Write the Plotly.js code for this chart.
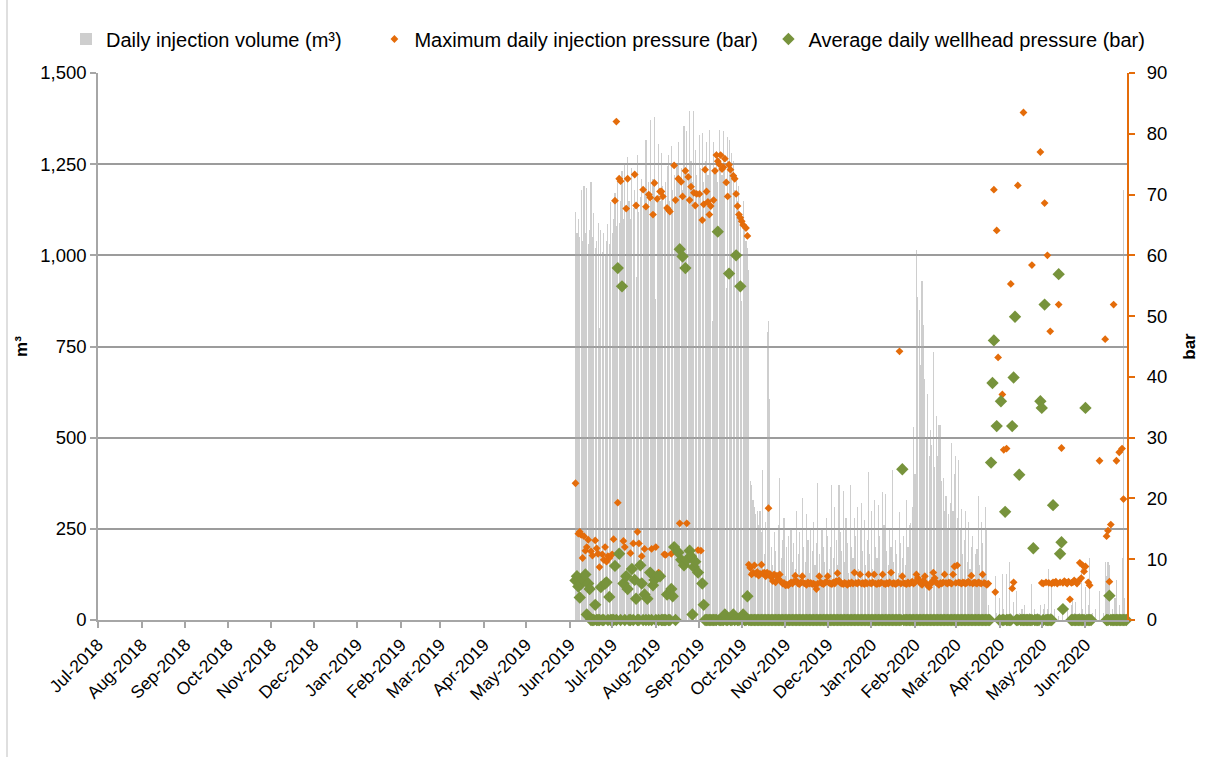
<!DOCTYPE html>
<html>
<head>
<meta charset="utf-8">
<script src="https://cdn.plot.ly/plotly-3.0.1.min.js"></script>
<style>
  html, body { margin: 0; padding: 0; background: #ffffff; }
  #chart { width: 1216px; height: 757px; }
</style>
</head>
<body>
<div id="chart"></div>
<script>
// First day of the daily series and step (one day in ms)
const seriesStart = '2019-06-05';
const dayMs = 86400000;

// Daily injection volume (m³), one value per day from 2019-06-05 to 2020-06-30
const dailyVolume = [
  1120, 1060, 1100, 1050, 1180, 1040, 1190, 1060, 1185, 1030,
  1070, 1200, 1050, 1115, 1020, 1040, 1090, 800, 1070, 1010,
  1060, 1000, 1040, 1085, 1030, 1145, 1060, 1100, 1170, 1080,
  1200, 1090, 1150, 1230, 1100, 1250, 1120, 1270, 1150, 1100,
  1240, 1130, 1180, 940, 1275, 1120, 1160, 1210, 1130, 1180,
  1315, 1140, 1200, 1370, 1150, 1210, 1380, 880, 1160, 1305,
  1150, 1280, 1190, 1130, 1200, 1245, 1275, 1150, 1300, 1180,
  1220, 1160, 1250, 1310, 1200, 1240, 1180, 1355, 1230, 1340,
  1210, 1395, 1260, 1200, 1395, 1290, 1220, 1170, 1330, 1240,
  1335, 1200, 1260, 1310, 1220, 1345, 1250, 820, 1310, 1230,
  1285, 1200, 1345, 1260, 1220, 1340, 1250, 910, 1325, 1315,
  1230, 1280, 1260, 1180, 1220, 1150, 1190, 1100, 875, 1150,
  1080, 1040, 1020, 960, 380, 370, 330, 310, 290, 300,
  260, 300, 240, 410, 180, 270, 790, 820, 605, 200,
  150, 240, 190, 130, 260, 390, 170, 220, 280, 120,
  200, 230, 90, 250, 160, 210, 140, 300, 180, 240,
  110, 335, 200, 160, 290, 220, 130, 250, 190, 270,
  150, 210, 375, 180, 120, 250, 200, 160, 280, 230,
  140, 200, 370, 170, 310, 220, 150, 370, 240, 190,
  355, 160, 280, 210, 130, 370, 200, 170, 280, 230,
  310, 140, 250, 320, 190, 275, 150, 220, 405, 180,
  300, 140, 330, 200, 170, 315, 230, 120, 350, 260,
  345, 190, 150, 250, 200, 410, 160, 220, 180, 130,
  295, 210, 170, 230, 150, 330, 200, 260, 265, 310,
  530, 400, 1015, 885, 850, 700, 930, 810, 660, 500,
  620, 450, 520, 480, 735, 420, 560, 450, 535, 535,
  380, 390, 300, 340, 250, 290, 320, 485, 300, 400,
  450, 280, 440, 250, 305, 180, 220, 300, 160, 270,
  140, 200, 230, 110, 180, 195, 340, 150, 270, 210,
  120, 310, 250, 40, 0, 10, 0, 0, 120, 20,
  0, 60, 0, 125, 30, 0, 125, 0, 160, 20,
  0, 50, 0, 80, 0, 20, 0, 30, 0, 40,
  0, 0, 20, 0, 100, 0, 30, 0, 20, 0,
  40, 0, 30, 45, 0, 30, 140, 20, 90, 0,
  30, 0, 0, 10, 0, 0, 20, 0, 0, 30,
  0, 0, 40, 60, 20, 50, 0, 0, 20, 140,
  30, 0, 90, 0, 40, 170, 0, 20, 0, 30,
  0, 0, 80, 0, 0, 20, 160, 120, 160, 150,
  0, 30, 0, 60, 110, 0, 40, 0, 170, 1180,
  60, 0
];

// Maximum daily injection pressure (bar), same days; null = no reading
const maxInjectionPressure = [
  22.5, null, 14.2, 14.5, 14.0, 10.2, 13.8, 11.4, 12.0, 13.2,
  null, 11.3, 10.6, null, 13.1, 11.8, 10.9, 8.7, null, 10.8,
  9.9, 12.0, 9.6, 10.5, 10.2, null, 10.8, 13.3, 69.0, 82.0,
  19.3, 72.6, 72.2, null, 13.0, 12.0, 67.7, 72.6, null, 11.0,
  null, 12.6, 73.3, 68.2, 14.5, 12.6, null, 10.5, 70.8, 11.7,
  68.0, null, 70.0, 69.5, 11.7, 66.7, 71.9, 12.0, 69.3, 7.8,
  70.5, 70.5, 69.7, 10.8, 10.7, 67.8, 67.5, 67.2, 10.9, null,
  74.8, 69.1, null, 72.6, 15.9, 72.1, 69.7, null, 73.9, 15.9,
  72.9, 69.1, 71.3, null, 70.3, 68.2, 70.1, 11.5, 70.1, 11.4,
  65.8, 68.4, 74.1, 70.5, 68.8, 66.7, 68.1, null, 69.1, 73.9,
  76.5, 75.5, 75.0, 76.5, 74.2, 74.5, 75.9, 72.0, 69.7, 74.9,
  74.1, null, 73.1, 72.6, 70.1, 68.1, 66.7, 66.2, 65.6, 65.0,
  null, 64.5, 63.2, 9.1, 8.6, 7.5, 7.8, 9.0, 7.6, 7.9,
  7.3, 7.6, 9.1, 7.7, 7.8, 7.2, 7.8, 18.4, 7.6, 7.0,
  6.4, 7.5, 6.2, 7.3, 6.8, 7.5, 6.3, 6.0, 6.1, 5.7,
  5.8, 5.7, 6.0, 6.2, 6.0, 6.3, 7.3, 6.4, 6.0, 5.9,
  6.2, 7.2, 6.1, 6.0, 5.8, 6.2, 6.0, 6.1, 5.9, 6.0,
  5.8, 5.1, 6.0, 7.2, 6.2, 6.0, 5.9, 6.1, 6.3, 7.2,
  6.1, 6.0, 5.9, 6.2, 6.0, 6.4, 7.7, 6.5, 6.1, 6.0,
  5.9, 6.1, 6.0, 5.8, 6.1, 6.0, 6.2, 6.0, 7.8, 6.1,
  6.0, 6.2, 7.5, 6.0, 6.1, 5.9, 6.2, 6.0, 7.5, 6.1,
  6.0, 6.2, 7.5, 6.0, 5.9, 6.1, 6.0, 6.2, 7.5, 6.0,
  5.9, 6.1, 6.0, 6.2, 7.8, 6.0, 6.1, 5.9, 6.0, 6.2,
  44.2, 6.0, 7.2, 6.1, 6.0, 5.9, 6.2, 6.0, 6.1, 6.3,
  6.0, 6.2, 7.5, 6.9, 6.4, 6.0, 5.8, 6.5, 7.2, 6.0,
  5.7, 5.4, 5.9, 6.3, 7.8, 6.9, 6.2, 6.0, 5.8, 6.1,
  6.0, 6.2, 7.5, 6.1, 6.0, 6.2, 6.1, 6.0, 7.5, 8.8,
  6.1, 9.0, 6.2, 6.1, 6.0, 6.2, 6.1, 6.0, 6.2, 6.3,
  6.1, 7.3, 6.0, 6.2, 6.1, 6.0, 6.2, 6.1, 6.0, 7.5,
  6.1, 6.0, 5.8, 6.0, null, null, null, 70.8, 4.6, 64.1,
  43.2, null, null, 37.1, 28.0, null, 28.2, null, null, 55.3,
  5.2, 6.2, null, null, 71.5, null, null, null, 83.5, null,
  null, null, null, null, 58.4, null, null, null, null, null,
  77.0, 6.1, 6.0, 68.6, 6.2, 60.0, 6.1, 47.5, 6.0, 6.2,
  6.1, 6.3, 6.0, 51.9, 6.2, 28.3, 6.1, 6.4, 6.2, 6.0,
  6.3, 3.4, 6.1, 6.2, 6.5, 6.3, 6.0, 6.4, 9.4, 6.9,
  9.0, 8.0, 8.8, null, 6.2, 5.7, null, null, null, null,
  null, null, 26.2, null, null, null, 46.2, 13.8, 14.7, 6.3,
  15.7, null, 51.9, null, 26.2, null, 27.6, null, 28.2, 19.9,
  null, null
];

// Average daily wellhead pressure (bar), same days; null = no reading
const avgWellheadPressure = [
  6.5, 7.2, 5.5, 3.7, 6.0, 6.8, 6.5, 7.5, 0.9, 6.0,
  5.1, 0, 0, 0, 2.5, 0, 0, 0, 5.4, 0,
  0, 6.0, 6.2, 0, 3.8, 0, 0, 0, 8.9, 0,
  57.9, 10.9, 0, 54.9, 6.0, 0, 7.2, 5.1, 0, 0,
  8.4, 0, 6.6, 3.5, 0, 0, 9.0, 6.0, 0, 4.2,
  0, 3.5, 0, 7.8, 0, 5.7, 6.6, 0, 7.2, 0,
  7.2, 0, 0, 0, 0, 4.2, 0, 0, 5.1, 3.9,
  12.0, 0, null, 11.1, 61.0, 9.9, 59.8, 9.0, 57.9, 9.9,
  null, 11.4, 10.5, 0.9, 8.7, 9.6, null, 7.8, null, null,
  6.0, 2.5, 0, 0, 0, 0, 0, 0, 0, 0,
  0, 63.9, 0, 0, 0, 0, 0.9, 0, 0, 57.0,
  0, 0, 0.9, 0, 60.0, 0, 0, 54.9, 0, 0.9,
  0, 0, 3.9, 0, 0, 0, 0, 0, 0, 0,
  0, 0, 0, 0, 0, 0, 0, 0, 0, 0,
  0, 0, 0, 0, 0, 0, 0, 0, 0, 0,
  0, 0, 0, 0, 0, 0, 0, 0, 0, 0,
  0, 0, 0, 0, 0, 0, 0, 0, 0, 0,
  0, 0, 0, 0, 0, 0, 0, 0, 0, 0,
  0, 0, 0, 0, 0, 0, 0, 0, 0, 0,
  0, 0, 0, 0, 0, 0, 0, 0, 0, 0,
  0, 0, 0, 0, 0, 0, 0, 0, 0, 0,
  0, 0, 0, 0, 0, 0, 0, 0, 0, 0,
  0, 0, 0, 0, 0, 0, 0, 0, 0, 0,
  0, 0, 24.8, 0, 0, 0, 0, 0, 0, 0,
  0, 0, 0, 0, 0, 0, 0, 0, 0, 0,
  0, 0, 0, 0, 0, 0, 0, 0, 0, 0,
  0, 0, 0, 0, 0, 0, 0, 0, 0, 0,
  0, 0, 0, 0, 0, 0, 0, 0, 0, 0,
  0, 0, 0, 0, 0, 0, 0, 0, 0, 0,
  0, 0, 0, 0, 0, 25.9, 39.0, 46.0, null, 31.9,
  null, 0, 36.0, 0, 0, 17.8, 0, 0, 0, 0,
  31.9, 39.9, 49.9, 0, 0, 23.9, 0, 0, 0, 0,
  0, 0, 0, 0, 0, 11.8, 0, 0, 0, 0,
  36.0, 34.9, 0, 51.9, 0, 0, 0, 0, 0, 18.9,
  null, null, null, 56.9, 10.9, 12.8, 1.8, null, null, null,
  null, null, 0, 0, 0, 0, 0, 0, 0, 0,
  0, 0, 34.9, 0, 0, 0, 0, null, null, null,
  null, null, null, null, null, null, null, 0, 0, 4.0,
  0, 0, 0, 0, 0, 0, 0, 0, 0, 0,
  0, 0
];

const seriesNames = [
  'Daily injection volume (m³)' + '\u00a0'.repeat(5),
  'Maximum daily injection pressure (bar)' + '\u00a0'.repeat(1),
  'Average daily wellhead pressure (bar)'
];

const axisRange = ['2018-07-01', '2020-06-30 12:00'];
const volumeRange = [0, 1500];
const pressureRange = [0, 90];

const GREY = '#a6a6a6';
const ORANGE = '#E46C0A';
const GREEN = '#77933C';
const FONT = 'Liberation Sans, Arial, sans-serif';

const traces = [
  {
    type: 'bar',
    name: seriesNames[0],
    x0: seriesStart, dx: dayMs,
    y: dailyVolume,
    width: 0.8 * dayMs,
    marker: { color: 'rgba(166,166,166,0.55)', line: { width: 0 } },
    hoverinfo: 'x+y'
  },
  {
    type: 'scatter', mode: 'markers',
    name: seriesNames[1],
    x0: seriesStart, dx: dayMs,
    y: maxInjectionPressure,
    yaxis: 'y2',
    cliponaxis: false,
    marker: { symbol: 'diamond', size: 6, color: ORANGE, line: { width: 0 } }
  },
  {
    type: 'scatter', mode: 'markers',
    name: seriesNames[2],
    x0: seriesStart, dx: dayMs,
    y: avgWellheadPressure,
    yaxis: 'y2',
    cliponaxis: false,
    marker: { symbol: 'diamond', size: 9.5, color: GREEN, line: { width: 0 } }
  }
];

const layout = {
  width: 1216, height: 757,
  margin: { l: 98, r: 89, t: 73, b: 137, pad: 0 },
  paper_bgcolor: '#ffffff', plot_bgcolor: '#ffffff',
  font: { family: FONT, size: 17, color: '#000000' },
  showlegend: true,
  legend: {
    orientation: 'h', xref: 'paper', yref: 'paper',
    x: (66 - 98) / 1029, xanchor: 'left', y: 1 + 34 / 547, yanchor: 'middle',
    font: { family: FONT, size: 20, color: '#000000' },
    itemwidth: 30, traceorder: 'normal', bgcolor: 'rgba(0,0,0,0)', borderwidth: 0
  },
  bargap: 0,
  xaxis: {
    type: 'date', range: axisRange,
    tick0: '2018-07-01', dtick: 'M1', tickformat: '%b-%Y', tickangle: -45,
    ticks: 'outside', ticklen: 6, tickcolor: GREY, tickwidth: 1.5,
    showline: true, linecolor: GREY, linewidth: 1.5,
    showgrid: false, zeroline: false,
    tickfont: { family: FONT, size: 17.5, color: '#000000' }
  },
  yaxis: {
    range: volumeRange, dtick: 250, tickformat: ',',
    ticks: 'outside', ticklen: 6, tickcolor: GREY, tickwidth: 1.5,
    showline: true, linecolor: GREY, linewidth: 1.5,
    showgrid: true, gridcolor: '#9c9c9c', gridwidth: 1.5, zeroline: false,
    tickfont: { family: FONT, size: 18.5, color: '#000000' },
    title: { text: '<b>m³</b>', font: { family: FONT, size: 17, color: '#000000' }, standoff: 8 }
  },
  yaxis2: {
    overlaying: 'y', side: 'right', range: pressureRange, dtick: 10,
    ticks: 'outside', ticklen: 6, tickcolor: ORANGE, tickwidth: 1.5,
    ticklabelstandoff: 8,
    showline: true, linecolor: ORANGE, linewidth: 2,
    showgrid: false, zeroline: false,
    tickfont: { family: FONT, size: 18.5, color: '#000000' },
    title: { text: '<b>bar</b>', font: { family: FONT, size: 17, color: '#000000' }, standoff: 17 }
  },
  shapes: [
    { type: 'line', xref: 'paper', yref: 'paper',
      x0: -91 / 1029, x1: -91 / 1029, y0: -137 / 547, y1: 620 / 547,
      line: { color: '#bfbfbf', width: 1 } }
  ]
};

Plotly.newPlot('chart', traces, layout, { displayModeBar: false, responsive: false });
</script>
</body>
</html>
